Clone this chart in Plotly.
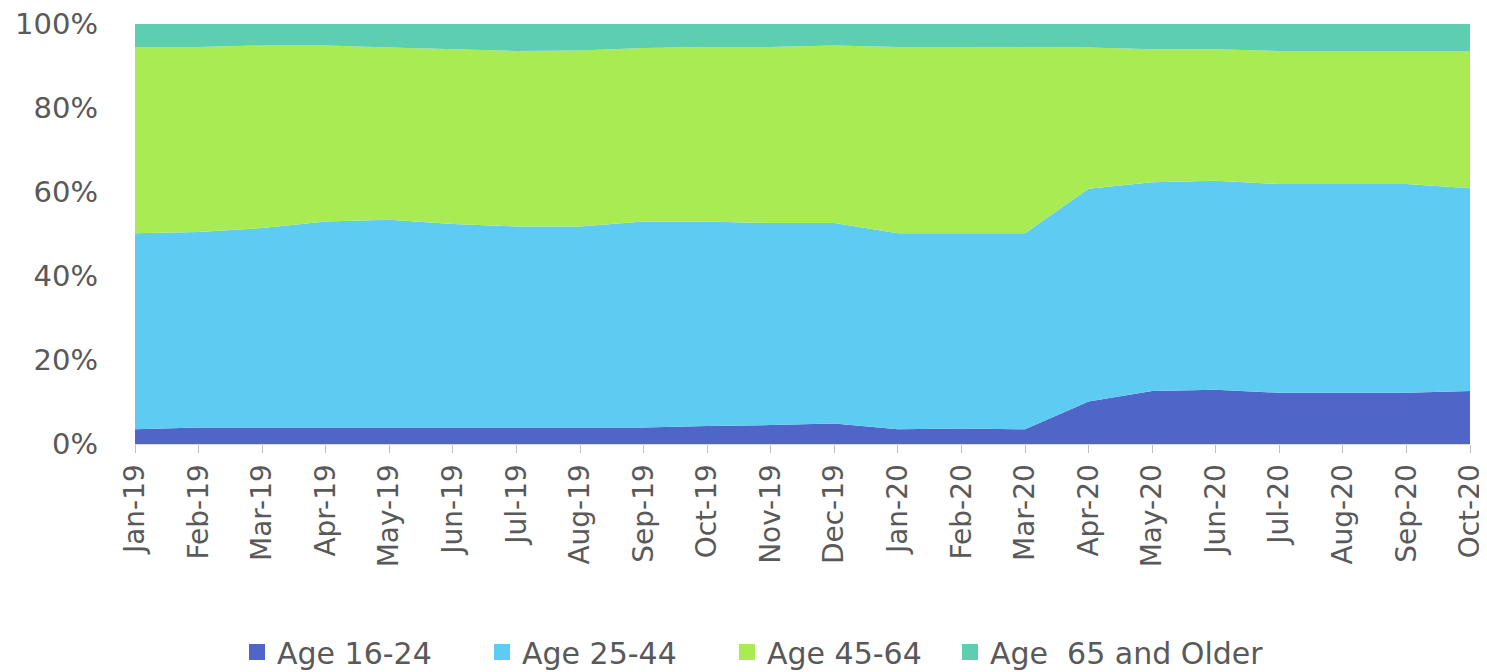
import plotly.graph_objects as go

months = ["Jan-19", "Feb-19", "Mar-19", "Apr-19", "May-19", "Jun-19", "Jul-19", "Aug-19",
          "Sep-19", "Oct-19", "Nov-19", "Dec-19", "Jan-20", "Feb-20", "Mar-20", "Apr-20",
          "May-20", "Jun-20", "Jul-20", "Aug-20", "Sep-20", "Oct-20"]

age_16_24 = [3.5, 3.9, 3.9, 3.9, 3.9, 3.9, 3.9, 3.9, 3.9, 4.3, 4.5, 4.9,
             3.5, 3.7, 3.5, 10.1, 12.6, 12.9, 12.2, 12.2, 12.2, 12.6]
age_25_44 = [46.7, 46.6, 47.5, 49.1, 49.5, 48.5, 47.9, 47.9, 49.1, 48.7, 48.1, 47.7,
             46.7, 46.5, 46.7, 50.7, 49.7, 49.8, 49.7, 49.7, 49.7, 48.3]
age_45_64 = [44.3, 44.0, 43.5, 41.9, 41.0, 41.6, 41.8, 41.9, 41.3, 41.5, 41.9, 42.3,
             44.3, 44.3, 44.3, 33.6, 31.7, 31.3, 31.7, 31.7, 31.7, 32.7]
age_65_plus = [5.5, 5.5, 5.1, 5.1, 5.6, 6.0, 6.4, 6.3, 5.7, 5.5, 5.5, 5.1,
               5.5, 5.5, 5.5, 5.6, 6.0, 6.0, 6.4, 6.4, 6.4, 6.4]

series = [
    ("Age 16-24", age_16_24, "#4F66C8", "legend"),
    ("Age 25-44", age_25_44, "#5ECBF2", "legend"),
    ("Age 45-64", age_45_64, "#A9EB52", "legend"),
    ("Age  65 and Older", age_65_plus, "#5DCFB0", "legend2"),
]

fig = go.Figure()
for name, vals, color, lg in series:
    fig.add_trace(go.Scatter(
        x=months, y=vals, name=name, mode="lines",
        stackgroup="one", groupnorm="percent",
        line=dict(width=0, color=color), fillcolor=color,
        showlegend=False, hoverinfo="x+y+name",
    ))
# legend entries with square swatches
for name, vals, color, lg in series:
    fig.add_trace(go.Scatter(
        x=[None], y=[None], name=name, mode="markers",
        marker=dict(symbol="square", size=17, color=color),
        showlegend=True, legend=lg,
    ))

font_fam = "DejaVu Sans, sans-serif"
gray = "#595959"

# the page body has an 8px margin; the figure is sized to fit the 1487x672 window
W, H = 1479, 664
leg_y = (672 - 652) / H

fig.update_layout(
    width=W, height=H,
    margin=dict(l=127, r=17, t=16, b=228),
    paper_bgcolor="white", plot_bgcolor="white",
    showlegend=True,
    legend=dict(orientation="h", xref="container", yref="container",
                x=(237 - 8) / W, xanchor="left", y=leg_y, yanchor="middle",
                font=dict(family=font_fam, size=30, color=gray),
                entrywidth=200, itemwidth=30, traceorder="normal"),
    legend2=dict(orientation="h", xref="container", yref="container",
                 x=(950 - 8) / W, xanchor="left", y=leg_y, yanchor="middle",
                 font=dict(family=font_fam, size=30, color=gray),
                 itemwidth=30),
    xaxis=dict(type="category", range=[0, len(months) - 1], automargin=False,
               tickangle=-90, tickfont=dict(family=font_fam, size=28, color=gray),
               ticks="outside", ticklen=8, tickcolor="#BFBFBF",
               showline=True, linecolor="#D9D9D9", linewidth=1,
               showgrid=False, zeroline=False, ticklabeloverflow="allow"),
    yaxis=dict(range=[0, 100], tickvals=[0, 20, 40, 60, 80, 100], automargin=False,
               ticktext=["0%", "20%", "40%", "60%", "80%", "100%"],
               tickfont=dict(family=font_fam, size=29, color=gray),
               showgrid=True, gridcolor="#D9D9D9", zeroline=False, showline=False,
               ticks="", ticklabelstandoff=36, ticklabeloverflow="allow"),
)

fig.write_html("out.html")
